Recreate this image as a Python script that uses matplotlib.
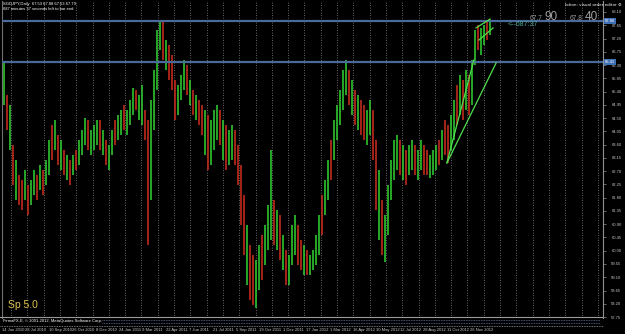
"""Daily SGDJPY chart in the look of a MetaTrader 4 window."""

import matplotlib

matplotlib.use("Agg")
import matplotlib.pyplot as plt
import matplotlib.transforms as mtransforms
import numpy as np

# ---- data (roughly one sample per 3 px of chart) ----
highs = [
    66.40, 65.28, 64.94, 63.59, 63.08, 62.57, 62.40, 62.74, 62.23, 62.40,
    62.74, 62.57, 62.91, 62.74, 63.08, 63.76, 64.27, 64.44, 63.93, 63.76,
    63.42, 63.25, 63.08, 63.25, 63.42, 63.76, 64.10, 64.50, 64.44, 64.10,
    64.27, 64.44, 64.44, 64.10, 63.76, 63.59, 64.10, 64.44, 64.61, 64.77,
    64.94, 64.77, 65.11, 65.52, 65.45, 65.28, 65.62, 64.77, 64.44, 65.11,
    66.13, 67.49, 67.83, 67.76, 67.15, 66.98, 66.64, 65.79, 65.62, 65.96,
    66.47, 66.30, 65.79, 65.45, 65.28, 65.11, 64.94, 64.77, 64.61, 64.44,
    64.77, 64.94, 64.77, 64.44, 64.27, 64.10, 64.27, 64.10, 63.59, 62.91,
    61.89, 60.87, 60.19, 59.86, 59.69, 60.19, 60.53, 60.87, 61.55, 63.42,
    61.72, 61.38, 61.21, 60.53, 60.02, 59.86, 60.87, 61.21, 60.87, 60.36,
    60.19, 60.02, 59.86, 60.02, 60.53, 61.21, 61.89, 62.40, 63.08, 63.76,
    64.44, 64.94, 65.45, 66.13, 66.47, 66.13, 65.79, 65.45, 65.28, 65.11,
    64.94, 64.77, 65.11, 64.77, 63.76, 62.74, 61.72, 61.21, 62.23, 63.08,
    63.76, 63.93, 63.76, 63.59, 63.42, 63.59, 63.76, 63.59, 63.42, 63.76,
    63.59, 63.42, 63.25, 63.42, 63.59, 63.76, 64.10, 64.44, 64.27, 64.61,
    65.11, 65.62, 65.96, 65.79, 66.13, 65.96, 66.47, 67.49, 67.66, 67.56,
    67.66, 67.76, 67.83,
]
lows = [
    64.94, 64.10, 63.42, 62.23, 61.72, 61.55, 61.38, 61.72, 61.21, 61.55,
    61.89, 61.72, 62.06, 61.89, 62.23, 62.57, 63.08, 63.42, 62.91, 62.74,
    62.57, 62.40, 62.23, 62.57, 62.74, 62.91, 63.25, 63.59, 63.42, 63.25,
    63.42, 63.59, 63.42, 63.25, 62.91, 62.74, 63.25, 63.59, 63.76, 63.93,
    64.10, 63.93, 64.27, 64.61, 64.77, 64.44, 64.27, 63.76, 60.19, 61.72,
    64.10, 65.45, 66.81, 66.47, 66.13, 65.79, 65.45, 64.44, 64.61, 65.11,
    65.45, 65.28, 64.94, 64.61, 64.44, 64.27, 63.93, 63.25, 62.74, 62.91,
    63.42, 63.76, 63.59, 63.08, 62.74, 62.91, 63.08, 62.91, 62.23, 60.87,
    59.86, 58.84, 58.33, 58.16, 58.06, 58.67, 59.01, 59.52, 60.02, 60.36,
    60.19, 60.02, 59.69, 59.35, 58.84, 58.84, 59.52, 59.86, 59.52, 59.35,
    59.18, 59.18, 59.18, 59.35, 59.52, 59.86, 60.53, 61.21, 61.72, 62.40,
    63.08, 63.76, 64.27, 64.77, 65.28, 64.94, 64.61, 64.27, 64.10, 63.93,
    63.76, 63.59, 63.93, 63.08, 61.38, 60.36, 59.86, 59.62, 60.53, 61.72,
    62.40, 62.74, 62.57, 62.40, 62.23, 62.57, 62.74, 62.57, 62.40, 62.74,
    62.57, 62.57, 62.47, 62.57, 62.74, 62.91, 63.08, 63.25, 62.98, 63.42,
    63.76, 64.27, 64.61, 64.44, 64.77, 64.61, 64.94, 66.30, 66.81, 66.64,
    66.98, 67.15, 67.32,
]
closes = [
    65.30, 64.40, 64.60, 62.50, 62.60, 61.90, 61.70, 62.30, 61.50, 62.10,
    62.40, 62.00, 62.60, 62.30, 62.90, 63.50, 63.40, 63.80, 63.20, 63.40,
    62.80, 62.90, 62.70, 63.00, 62.90, 63.60, 63.90, 64.30, 63.80, 63.90,
    64.00, 64.20, 63.70, 63.90, 63.10, 63.30, 63.90, 63.80, 64.40, 64.60,
    64.50, 64.70, 64.90, 65.30, 65.00, 65.10, 65.20, 64.00, 63.50, 64.80,
    65.80, 67.20, 67.40, 66.90, 67.00, 66.20, 65.70, 64.80, 65.30, 65.70,
    66.10, 65.60, 65.70, 64.90, 65.00, 64.60, 64.20, 64.40, 63.00, 63.90,
    64.40, 64.60, 64.00, 64.10, 63.20, 63.60, 63.80, 63.20, 62.50, 61.20,
    60.30, 60.50, 58.70, 58.50, 58.90, 59.50, 59.30, 60.40, 60.90, 61.00,
    60.50, 60.80, 60.00, 60.20, 59.20, 59.40, 60.40, 60.60, 59.90, 59.60,
    59.80, 59.50, 59.70, 59.70, 60.20, 60.90, 60.70, 62.10, 62.80, 62.60,
    64.20, 64.60, 65.20, 65.90, 66.00, 65.40, 65.50, 64.80, 64.90, 64.40,
    64.30, 64.40, 64.70, 63.40, 61.90, 62.10, 60.30, 60.80, 61.80, 62.70,
    63.20, 63.40, 63.00, 63.10, 62.70, 63.20, 63.40, 63.00, 63.10, 63.30,
    63.10, 62.90, 63.00, 63.00, 63.30, 63.20, 63.80, 63.70, 63.50, 64.30,
    64.80, 64.70, 65.60, 65.00, 65.80, 65.20, 66.30, 67.30, 67.00, 67.30,
    67.50, 67.40, 67.79,
]

date_labels = [
    "14 Jun 2010", "28 Jul 2010", "10 Sep 2010", "26 Oct 2010", "8 Dec 2010",
    "24 Jan 2011", "9 Mar 2011", "22 Apr 2011", "7 Jun 2011", "21 Jul 2011",
    "5 Sep 2011", "19 Oct 2011", "1 Dec 2011", "17 Jan 2012", "1 Mar 2012",
    "16 Apr 2012", "30 May 2012", "12 Jul 2012", "28 Aug 2012", "11 Oct 2012",
    "26 Nov 2012",
]

# user objects: horizontal levels and trend lines as (sample index, price)
levels = [67.80, 66.41]
trend_lines = [
    [(147.8, 62.98), (164.2, 66.37)],
    [(147.8, 62.98), (156.8, 66.47)],
    [(157.5, 67.56), (162.2, 67.86)],
    [(158.5, 67.15), (163.2, 67.56)],
]

bid, ask = "67.790", "67.840"

_BG = "#000000"
_UP = "#2ec42e"
_DOWN = "#c02c1c"
_GRID = "#8a8a8a"
_LEVEL = "#4a6a9a"
_TREND = "#4ee04e"
_AXIS_TXT = "#c8c8c8"
_FONT = ["Liberation Sans", "DejaVu Sans"]

W, H = 625, 334
plt.rcParams["font.family"] = _FONT

fig = plt.figure(figsize=(W / 100, H / 100), dpi=100, facecolor=_BG)
ax = fig.add_axes([2 / W, 16 / H, 601 / W, 317 / H], facecolor=_BG)

n = len(highs)
idx = np.arange(n)
prev = [closes[0]] + closes[:-1]
colors = [_UP if c >= p else _DOWN for c, p in zip(closes, prev)]

# vertical dotted grid (MT4 style)
for gx in np.arange(11, 603, 16.3):
    ax.axvline((gx - 3.5) / 3, color=_GRID, lw=0.6, ls=(0, (1, 2)), zorder=0)

ax.vlines(idx, lows, highs, colors=colors, lw=1.2, zorder=2)

for lvl in levels:
    ax.axhline(lvl, color=_LEVEL, lw=1.6, zorder=3)

for (x0, y0), (x1, y1) in trend_lines:
    ax.plot([x0, x1], [y0, y1], color=_TREND, lw=0.9, zorder=4)

ax.set_xlim(-0.5, 199.83)
ax.set_ylim(57.717, 68.473)

# axes styling
for side in ("top", "bottom"):
    ax.spines[side].set_visible(False)
ax.spines["left"].set_color("#707070")
ax.spines["right"].set_color("#909090")
ax.spines["left"].set_linewidth(0.8)
ax.spines["right"].set_linewidth(0.8)

yt = np.arange(57.75, 68.11, 0.45)
ax.yaxis.tick_right()
ax.set_yticks(yt)
ax.set_yticklabels([f"{v:.2f}" for v in yt])
ax.tick_params(axis="y", colors="#909090", labelcolor=_AXIS_TXT, labelsize=3,
               length=2, width=0.5, pad=4)

xt = [-0.5 + 7.8 * k for k in range(len(date_labels))]
ax.set_xticks(xt)
ax.set_xticklabels(date_labels, ha="left")
ax.tick_params(axis="x", length=0, labelsize=3, labelcolor=_AXIS_TXT, pad=7)

blend = mtransforms.blended_transform_factory(ax.transAxes, ax.transData)
for lvl in levels:
    ax.text(1.003, lvl, f"{lvl:.2f}", transform=blend, fontsize=3, color="white",
            va="center", ha="left", clip_on=False, zorder=6,
            bbox=dict(fc="#3f6fb5", ec="none", pad=0.8))

# texts inside the chart
fig.text(3 / W, 1 - 4 / H, "SGDJPY,Daily  67.53 67.88 67.53 67.79", fontsize=3,
         color="white", va="center")
fig.text(3 / W, 1 - 9 / H, "687 minutes 37 seconds left to bar end", fontsize=3,
         color="white", va="center")
fig.text(565 / W, 1 - 5 / H, "lotion: visual order editor \u2699", fontsize=3,
         color="white", va="center", family=["DejaVu Sans"])
fig.text(530 / W, 1 - 19.5 / H, bid[:4], fontsize=4.8, color="#a0a0a0", va="baseline")
fig.text(544.5 / W, 1 - 19.5 / H, bid[4:6], fontsize=8.5, color="#a0a0a0", va="baseline")
fig.text(570 / W, 1 - 19.5 / H, ask[:4], fontsize=4.8, color="#a0a0a0", va="baseline")
fig.text(584.5 / W, 1 - 19.5 / H, ask[4:6], fontsize=8.5, color="#a0a0a0", va="baseline")
fig.text(508 / W, 1 - 25 / H, "<--687:37", fontsize=5, color="#4fa89a", va="center")
fig.text(8 / W, 1 - 305 / H, "Sp 5.0", fontsize=7.5, color="#e2c24a", va="center")

# bottom strip with copyright line
strip = fig.add_axes([0, 7 / H, 603 / W, 11 / H], facecolor=_BG)
strip.set_xlim(0, 603)
strip.set_ylim(11, 0)
strip.axis("off")
strip.axhline(1, color="#9a9a9a", lw=0.8)
strip.axhline(9.5, color="#9a9a9a", lw=0.6, ls=(0, (1, 1)))
strip.hlines([4, 6.5], 102, 600, color="#5a6f9a", lw=0.6, ls=(0, (1, 1)))
strip.text(3, 5, "FirmaFX-E, \u00a9 2001-2012, MetaQuotes Software Corp.", fontsize=3,
           color="white", va="center")

fig.savefig("out.png", dpi=100, facecolor=_BG)
